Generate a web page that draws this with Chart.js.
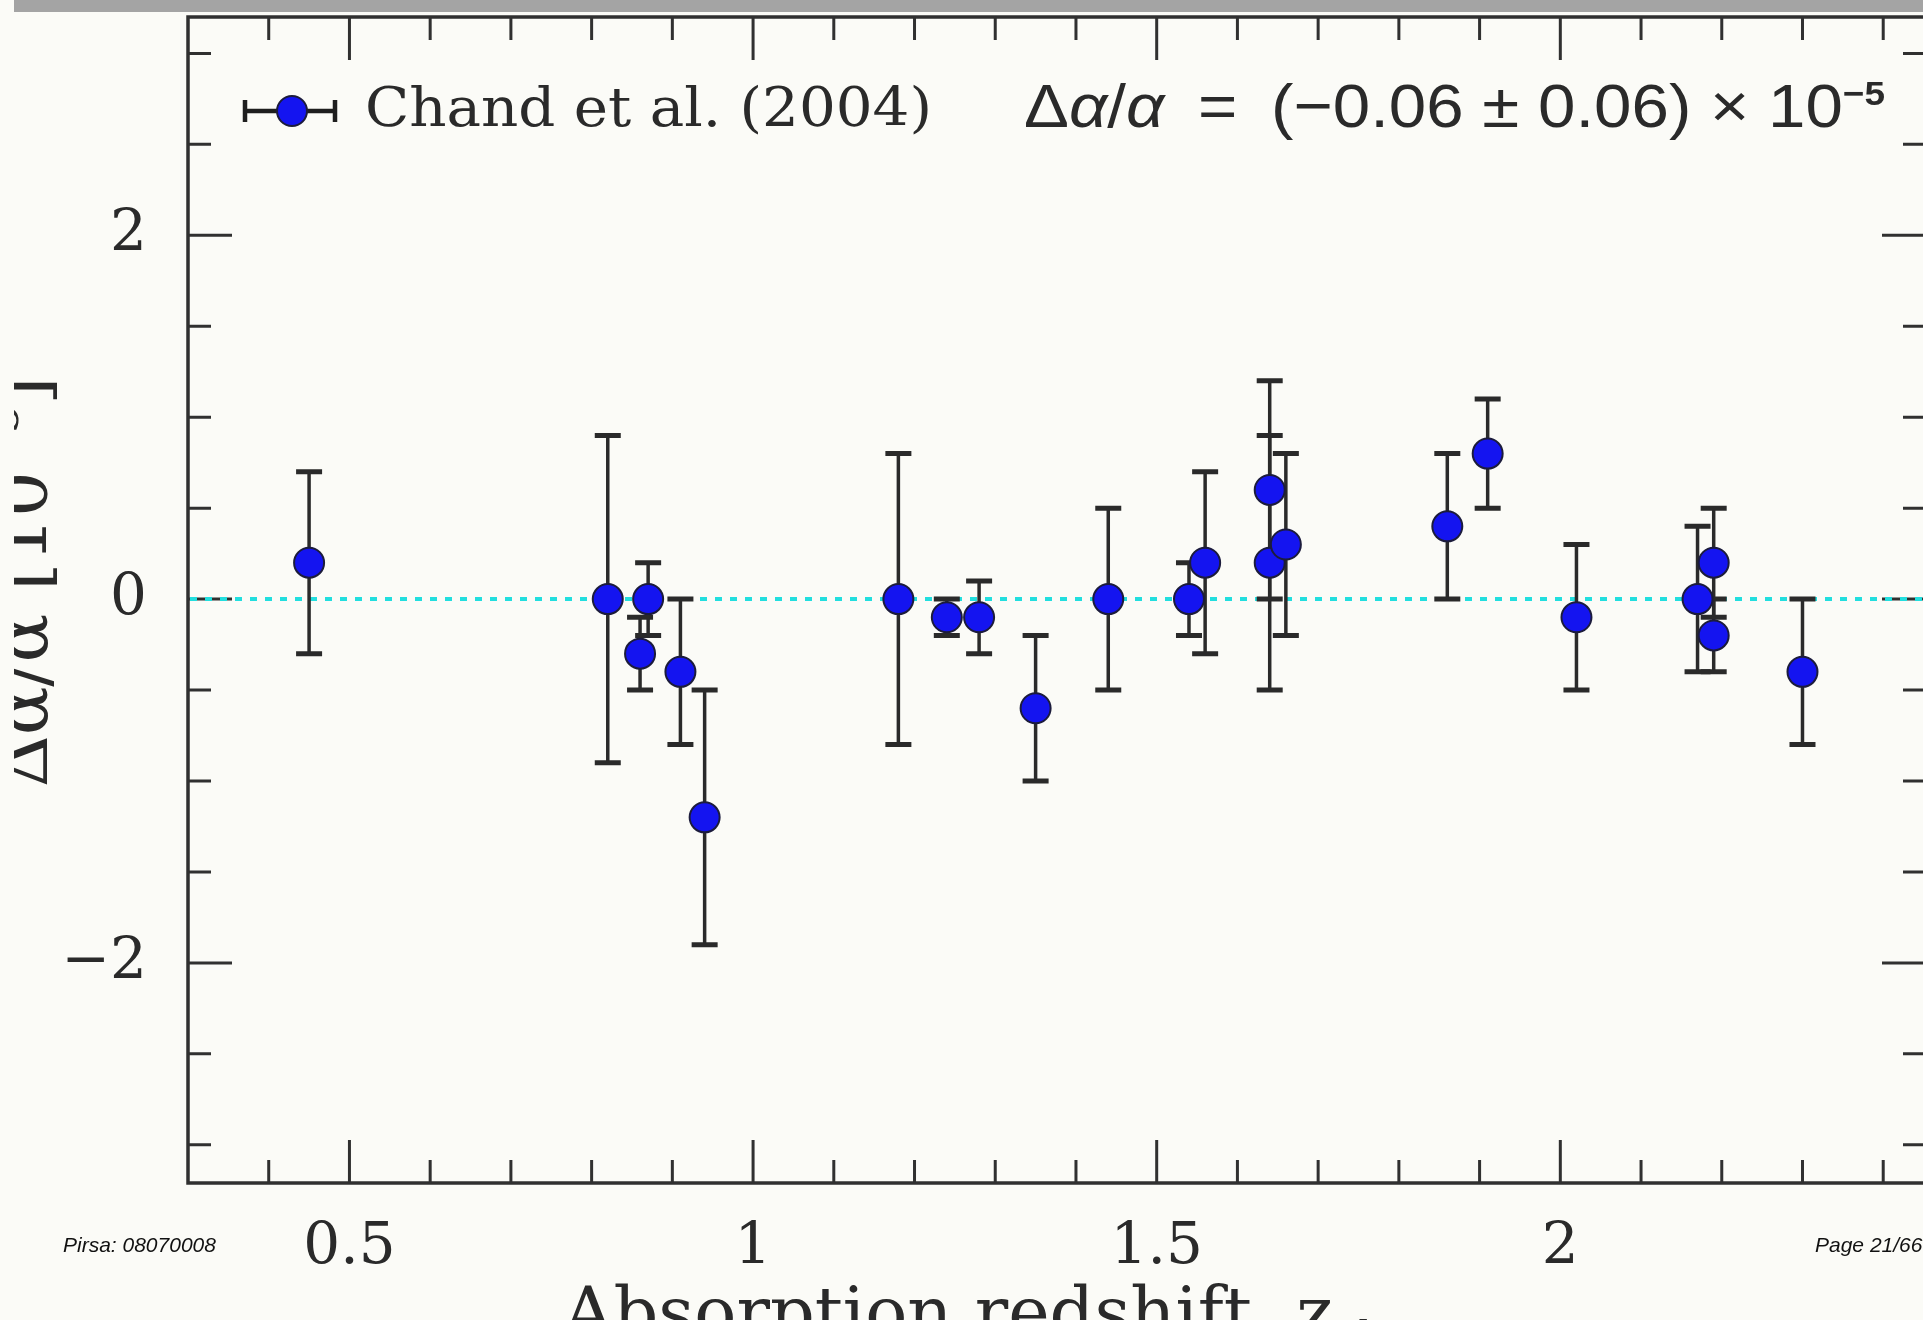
<!DOCTYPE html>
<html>
<head>
<meta charset="utf-8">
<title>Chand et al. (2004) – Δα/α vs absorption redshift</title>
<script src="https://cdn.jsdelivr.net/npm/chart.js@4.4.0/dist/chart.umd.min.js"></script>
<style>
  html, body { margin: 0; padding: 0; width: 1923px; height: 1320px; overflow: hidden; background: #fbfbf7; }
  #wrap { position: absolute; left: -30px; top: 0; width: 1973px; height: 1360px; }
  #leftcut { position: absolute; left: 0; top: 0; width: 14px; height: 1320px; background: #fbfbf7; }
  #topband { position: absolute; left: 14px; top: 0; width: 1909px; height: 12px; background: #a4a4a4; }
  .foot { position: absolute; top: 1234px; font: italic 21px "Liberation Sans", Arial, sans-serif; color: #111; line-height: 1; white-space: nowrap; }
  #pirsa { left: 63px; }
  #page { left: 1815px; }
</style>
</head>
<body>
<div id="wrap"><canvas id="chart" width="1973" height="1360"></canvas></div>
<div id="leftcut"></div>
<div id="topband"></div>
<div class="foot" id="pirsa">Pirsa: 08070008</div>
<div class="foot" id="page">Page 21/66</div>

<script>
// ─── Data ─────────────────────────────────────────────
const redshifts  = [0.45, 0.82, 0.86, 0.87, 0.91, 0.94, 1.18, 1.24, 1.28, 1.35, 1.44, 1.54,
                    1.56, 1.64, 1.64, 1.66, 1.86, 1.91, 2.02, 2.17, 2.19, 2.19, 2.30];
const deltaAlpha = [0.2, 0.0, -0.3, 0.0, -0.4, -1.2, 0.0, -0.1, -0.1, -0.6, 0.0, 0.0,
                    0.2, 0.6, 0.2, 0.3, 0.4, 0.8, -0.1, 0.0, 0.2, -0.2, -0.4];
const errors     = [0.5, 0.9, 0.2, 0.2, 0.4, 0.7, 0.8, 0.1, 0.2, 0.4, 0.5, 0.2,
                    0.5, 0.6, 0.7, 0.5, 0.4, 0.3, 0.4, 0.4, 0.3, 0.2, 0.4];
const zTicks     = [0.5, 1, 1.5, 2];
const daTicks    = [-2, 0, 2];
const seriesLabel = 'Chand et al. (2004)';

// ─── Styles ───────────────────────────────────────────
const INK    = '#2a2a2a';
const BLUE   = '#1414f0';
const CYAN   = '#22dede';
const SERIF  = '"DejaVu Serif", serif';
const SANS   = '"Liberation Sans", Arial, sans-serif';

// draw a run of text segments, optionally stretched to a given width
function drawRun(ctx, segs, x, y, width, align) {
    let total = 0;
    segs.forEach(s => { ctx.font = s.font; s.w = ctx.measureText(s.text).width; total += s.w; });
    const k = width ? width / total : 1;
    ctx.save();
    ctx.translate(x, y);
    ctx.scale(k, 1);
    let cx = align === 'center' ? -total / 2 : 0;
    segs.forEach(s => {
        ctx.font = s.font;
        ctx.fillText(s.text, cx, s.dy || 0);
        cx += s.w;
    });
    ctx.restore();
}

// ─── Frame, ticks, error bars, legend, titles ─────────
const plotDecor = {
    id: 'plotDecor',
    beforeDatasetsDraw(chart) {
        const { ctx, chartArea: a, scales: { x, y } } = chart;
        ctx.save();

        // frame + inward ticks
        ctx.strokeStyle = '#303030';
        ctx.lineWidth = 3.5;
        ctx.strokeRect(a.left, a.top, a.right - a.left, a.bottom - a.top);
        ctx.lineWidth = 3;
        ctx.beginPath();
        for (let i = 4; i <= 24; i++) {
            const v = i / 10;
            const len = zTicks.includes(v) ? 43 : 23;
            const px = x.getPixelForValue(v);
            ctx.moveTo(px, a.top);    ctx.lineTo(px, a.top + len);
            ctx.moveTo(px, a.bottom); ctx.lineTo(px, a.bottom - len);
        }
        for (let i = -6; i <= 6; i++) {
            const v = i / 2;
            const len = daTicks.includes(v) ? 44 : 23;
            const py = y.getPixelForValue(v);
            ctx.moveTo(a.left, py);  ctx.lineTo(a.left + len, py);
            ctx.moveTo(a.right, py); ctx.lineTo(a.right - len, py);
        }
        ctx.stroke();

        // zero reference line
        const y0 = y.getPixelForValue(0);
        ctx.strokeStyle = CYAN;
        ctx.lineWidth = 4;
        ctx.setLineDash([7, 8]);
        ctx.beginPath();
        ctx.moveTo(a.left + 2, y0);
        ctx.lineTo(a.right, y0);
        ctx.stroke();
        ctx.setLineDash([]);

        // error bars
        ctx.strokeStyle = INK;
        redshifts.forEach((z, i) => {
            const px  = x.getPixelForValue(z);
            const top = y.getPixelForValue(deltaAlpha[i] + errors[i]);
            const bot = y.getPixelForValue(deltaAlpha[i] - errors[i]);
            ctx.lineWidth = 3.5;
            ctx.beginPath();
            ctx.moveTo(px, top); ctx.lineTo(px, bot);
            ctx.stroke();
            ctx.lineWidth = 5;
            ctx.beginPath();
            ctx.moveTo(px - 13, top); ctx.lineTo(px + 13, top);
            ctx.moveTo(px - 13, bot); ctx.lineTo(px + 13, bot);
            ctx.stroke();
        });
        ctx.restore();
    },
    afterDraw(chart) {
        const { ctx, chartArea: a } = chart;
        const ds = chart.data.datasets[0];
        ctx.save();
        ctx.fillStyle = INK;
        ctx.textBaseline = 'alphabetic';

        // legend symbol
        const ly = a.top + 94;
        ctx.strokeStyle = '#1e1e1e';
        ctx.lineWidth = 4.5;
        ctx.beginPath();
        ctx.moveTo(a.left + 57, ly);       ctx.lineTo(a.left + 147, ly);
        ctx.moveTo(a.left + 57, ly - 11);  ctx.lineTo(a.left + 57, ly + 11);
        ctx.moveTo(a.left + 147, ly - 11); ctx.lineTo(a.left + 147, ly + 11);
        ctx.stroke();
        ctx.beginPath();
        ctx.arc(a.left + 104, ly, 15, 0, Math.PI * 2);
        ctx.fillStyle = BLUE;
        ctx.fill();
        ctx.lineWidth = 2;
        ctx.strokeStyle = ds.pointBorderColor;
        ctx.stroke();

        // legend label and fitted value
        ctx.fillStyle = INK;
        drawRun(ctx, [{ text: ds.label, font: `55px ${SERIF}` }], a.left + 177, a.top + 109, 567);
        const f  = `62px ${SANS}`, fi = `italic 62px ${SANS}`, fs = `bold 34px ${SANS}`;
        drawRun(ctx, [
            { text: 'Δ', font: f }, { text: 'α', font: fi }, { text: '/', font: f }, { text: 'α', font: fi },
            { text: '\u2002=\u2002(\u22120.06 ± 0.06) × 10', font: f },
            { text: '\u22125', font: fs, dy: -22 }
        ], a.left + 836, a.top + 110, 861);

        // x axis title
        drawRun(ctx, [
            { text: 'Absorption redshift  z', font: `70px ${SERIF}` },
            { text: 'abs', font: `42px ${SERIF}`, dy: 16 }
        ], a.left + 375, 1336);

        // y axis title
        ctx.translate(77, 582);
        ctx.rotate(-Math.PI / 2);
        drawRun(ctx, [
            { text: 'Δα/α [10', font: `72px ${SERIF}` },
            { text: '\u22125', font: `45px ${SERIF}`, dy: -29 },
            { text: ']', font: `72px ${SERIF}` }
        ], 0, 0, 0, 'center');
        ctx.restore();
    }
};

// ─── Chart ────────────────────────────────────────────
const tickFont = { family: '"DejaVu Serif", serif', size: 58 };

function fixedFit(size) {
    return s => {
        if (s.isHorizontal()) s.height = size; else s.width = size;
        s.paddingLeft = s.paddingRight = s.paddingTop = s.paddingBottom = 0;
    };
}

new Chart(document.getElementById('chart'), {
    type: 'scatter',
    data: {
        datasets: [{
            label: seriesLabel,
            data: redshifts.map((z, i) => ({ x: z, y: deltaAlpha[i] })),
            pointRadius: 15,
            pointHoverRadius: 15,
            pointBackgroundColor: BLUE,
            pointBorderColor: '#1c1c3c',
            pointBorderWidth: 2,
        }],
    },
    options: {
        responsive: false,
        animation: false,
        events: [],
        layout: { padding: { top: 14, right: 16, left: 0, bottom: 0 } },
        plugins: { legend: { display: false }, tooltip: { enabled: false } },
        scales: {
            x: {
                type: 'linear',
                min: 0.3,
                max: 2.453,
                afterBuildTicks: s => { s.ticks = zTicks.map(v => ({ value: v })); },
                afterFit: fixedFit(177),
                grid: { display: false, drawTicks: false },
                border: { display: false },
                ticks: { padding: 30, font: tickFont, color: INK, maxRotation: 0, callback: v => String(v) },
            },
            y: {
                type: 'linear',
                min: -3.21,
                max: 3.2,
                afterBuildTicks: s => { s.ticks = daTicks.map(v => ({ value: v })); },
                afterFit: fixedFit(218),
                grid: { display: false, drawTicks: false },
                border: { display: false },
                ticks: { padding: 41, font: tickFont, color: INK,
                         callback: v => (v < 0 ? '\u2212' + Math.abs(v) : String(v)) },
            },
        },
    },
    plugins: [plotDecor],
});
</script>
</body>
</html>
